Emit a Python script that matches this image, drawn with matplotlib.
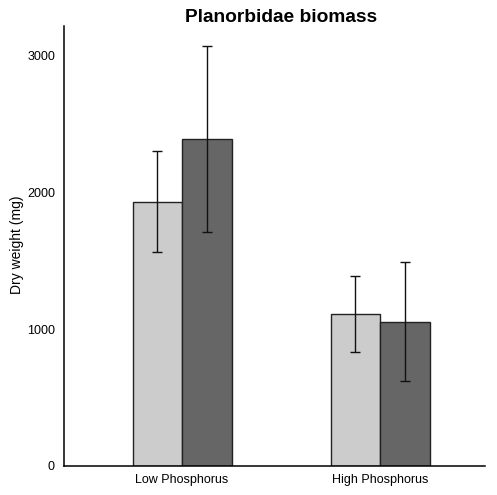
import matplotlib.pyplot as plt
import numpy as np

plt.rcParams['font.family'] = ['Liberation Sans', 'DejaVu Sans']

groups = ['Low Phosphorus', 'High Phosphorus']
light_vals = [1930, 1110]
light_err = [370, 280]
dark_vals = [2385, 1052]
dark_err = [680, 435]
yticks = [0, 1000, 2000, 3000]

fig = plt.figure(figsize=(4.97, 4.95), dpi=100)
ax = fig.add_axes([0.1288, 0.0586, 0.8472, 0.8889])

x = np.arange(len(groups))
w = 0.25
err_kw = dict(ecolor='#111111', elinewidth=1, capsize=3.6, capthick=1)
ax.bar(x - w/2, light_vals, w, yerr=light_err, color='#cccccc', edgecolor='#222222',
       linewidth=1, error_kw=err_kw)
ax.bar(x + w/2, dark_vals, w, yerr=dark_err, color='#666666', edgecolor='#222222',
       linewidth=1, error_kw=err_kw)

ax.set_xlim(-0.596, 1.53)
ax.set_ylim(0, 3212)
ax.set_xticks(x)
ax.set_xticklabels(groups, fontsize=9)
ax.set_yticks(yticks)
ax.set_yticklabels([str(v) for v in yticks], fontsize=9)
ax.tick_params(length=0)
ax.tick_params(axis='y', pad=6.5)
ax.tick_params(axis='x', pad=6)
for s in ['top', 'right']:
    ax.spines[s].set_visible(False)
ax.spines['left'].set_linewidth(1.1)
ax.spines['bottom'].set_linewidth(1.1)

fig.text(17 / 497, 1 - 245 / 495, 'Dry weight (mg)', fontsize=10, rotation=90,
         ha='center', va='center')
fig.text(281 / 497, 1 - 18 / 495, 'Planorbidae biomass', fontsize=13.8, fontweight='bold',
         ha='center', va='center')

fig.savefig('out.png', dpi=100)
